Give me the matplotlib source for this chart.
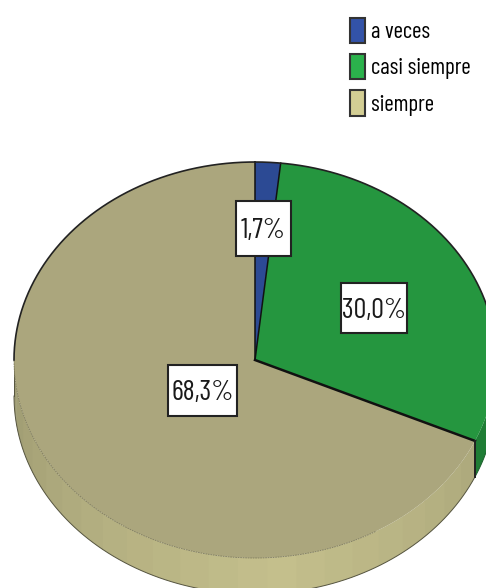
import numpy as np
import matplotlib
matplotlib.use("Agg")
import matplotlib.pyplot as plt
import logging
from matplotlib.patches import Rectangle
from matplotlib.colors import to_rgb

logging.getLogger("matplotlib.font_manager").setLevel(logging.ERROR)

categories = ["a veces", "casi siempre", "siempre"]
values = [1.7, 30.0, 68.3]
labels = ["1,7%", "30,0%", "68,3%"]
top_colors = ["#2C4A94", "#25963F", "#ABA67D"]
legend_colors = ["#3353A8", "#2BB24C", "#D3CE94"]
side_colors = ["#263F80", "#1F7D35", "#C4BF8C"]

FONT = ["Barlow Condensed", "Roboto Condensed", "Liberation Sans", "DejaVu Sans"]
W, H = 486, 588
cx, cy, rx, ry, depth = 255, 360, 241, 198, 36

fig = plt.figure(figsize=(W / 100, H / 100), dpi=100, facecolor="white")
ax = fig.add_axes([0, 0, 1, 1])
ax.set_xlim(0, W)
ax.set_ylim(H, 0)
ax.axis("off")


def pt(theta):
    t = np.radians(theta)
    return cx + rx * np.sin(t), cy - ry * np.cos(t)


edges = np.concatenate([[0], np.cumsum(values)]) * 3.6


def side_shade(theta):
    # darkest at the left, brightest near the front
    f = np.clip(1 - abs(theta - 175) / 95, 0, 1)
    a, b = np.array(to_rgb("#9A976F")), np.array(to_rgb(side_colors[2]))
    return a + (b - a) * f ** 0.8


def rim(a0, a1, col):
    th = np.linspace(a0, a1 + 0.4, 10)
    x, y = pt(th)
    ax.fill(np.r_[x, x[::-1]], np.r_[y, y[::-1] + depth], color=col, lw=0, zorder=2)


# Extruded rim: the front half of the disc, in facets
rim(90, edges[2], side_colors[1])
starts = np.arange(edges[2], 270, 7.0)
for a0 in starts:
    a1 = min(a0 + 7.0, 270)
    rim(a0, a1, side_shade((a0 + a1) / 2))

# Rim outlines
x, y = pt(np.linspace(edges[2], 270, 200))
ax.plot(x, y + depth, color="#55543F", lw=0.7, zorder=3)
x, y = pt(np.linspace(90, edges[2], 50))
ax.plot(x, y + depth, color="#1B5E2A", lw=0.7, zorder=3)
x, y = pt(np.linspace(150, 270, 100))
ax.plot(x, y, color="#7E7B5C", lw=0.6, ls=(0, (2, 1)), zorder=5)
ax.plot([cx - rx, cx - rx], [cy, cy + depth], color="#55543F", lw=0.7, zorder=3)

# Top face
for i in range(3):
    x, y = pt(np.linspace(edges[i], edges[i + 1], 200))
    ax.fill(np.r_[cx, x], np.r_[cy, y], color=top_colors[i], lw=0, zorder=4)
for i in range(3):
    x, y = pt(edges[i])
    ax.plot([cx, x], [cy, y], color="#111111", lw=1.8 if i == 2 else 1.1, zorder=6)
x, y = pt(np.linspace(270, 360, 200))
ax.plot(x, y, color="#222222", lw=1.2, zorder=6)
x, y = pt(np.linspace(0, 90, 200))
ax.plot(x, y, color="#222222", lw=1.2, zorder=6)
# Vertical edge where the green rim meets the tan rim
ex, ey = pt(edges[2])
ax.plot([ex, ex], [ey, ey + depth], color="#222222", lw=1.4, zorder=6)

# Value boxes
label_boxes = [(236, 201, 55, 55), (341, 283, 66, 50), (168, 365, 69, 51)]
for s, (bx, by, bw, bh) in zip(labels, label_boxes):
    ax.add_patch(Rectangle((bx, by), bw, bh, fc="white", ec="#222222", lw=1.5, zorder=7))
    ax.text(bx + bw / 2, by + bh / 2, s, family=FONT, fontsize=20.5, color="#1a1a1a",
            ha="center", va="center_baseline", zorder=8)

# Legend
handles = [Rectangle((0, 0), 1, 1, fc=c, ec="#333333", lw=1.5) for c in legend_colors]
ax.legend(handles, categories, loc="upper left", bbox_to_anchor=(350 / W, 1 - 18 / H),
          frameon=False, prop={"family": FONT, "size": 16.5}, handlelength=0.655, handleheight=1.325,
          handletextpad=0.26, labelspacing=0.47, borderpad=0, borderaxespad=0)

fig.savefig("out.png", dpi=100, facecolor="white")
